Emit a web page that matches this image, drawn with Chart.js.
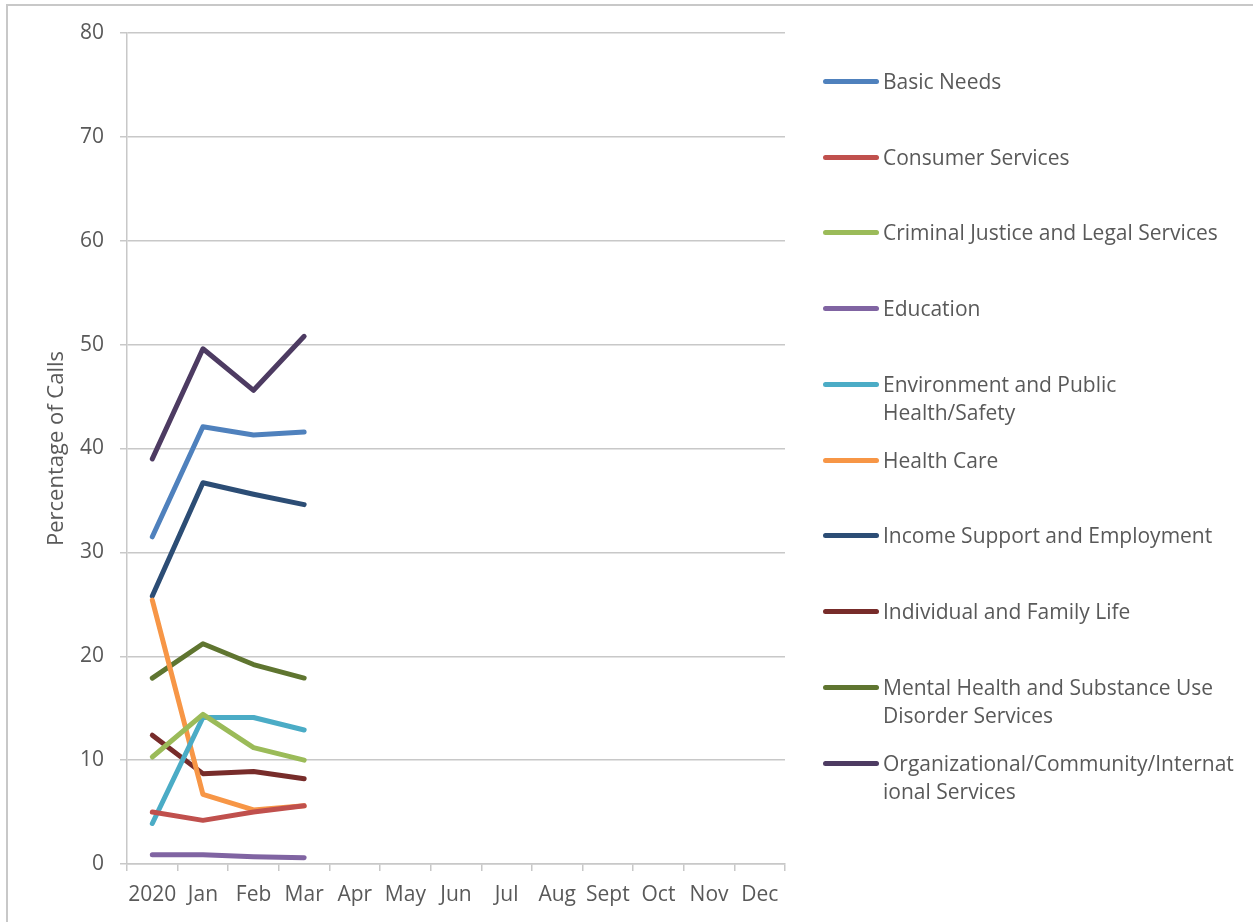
<!DOCTYPE html>
<html>
<head>
<meta charset="utf-8">
<script src="https://cdn.jsdelivr.net/npm/chart.js@4/dist/chart.umd.min.js"></script>
<style>
  body { margin: 0; background: #fff; font-family: "Open Sans", sans-serif; }
  #wrap { position: relative; width: 1253px; height: 922px; overflow: hidden; }
  #frame { position: absolute; left: 6px; top: 4px; right: -10px; bottom: -10px;
           border-left: 2px solid #c8c8c8; border-top: 2px solid #c8c8c8; }
  #callsChart { position: absolute; left: 0; top: 0; }
  #legend { position: absolute; left: 823px; top: 0; width: 425px; }
  .item { position: absolute; left: 0; display: flex; align-items: flex-start; }
  .swatch { width: 56px; height: 5px; border-radius: 3px; margin-top: 12px; margin-right: 4px; flex: none; }
  .txt { width: 352px; font-size: 21px; line-height: 28px; color: #595959; overflow-wrap: anywhere; }
</style>
</head>
<body>
<div id="wrap">
  <div id="frame"></div>
  <canvas id="callsChart" width="1253" height="922"></canvas>
  <div id="legend"></div>
</div>
<script>
const months = ["2020", "Jan", "Feb", "Mar", "Apr", "May", "Jun", "Jul", "Aug", "Sept", "Oct", "Nov", "Dec"];

const basicNeeds = [31.5, 42.1, 41.3, 41.6];
const consumerServices = [5.0, 4.2, 5.0, 5.6];
const criminalJustice = [10.3, 14.4, 11.2, 10.0];
const education = [0.9, 0.9, 0.7, 0.6];
const environmentHealth = [3.9, 14.1, 14.1, 12.9];
const healthCare = [25.4, 6.7, 5.2, 5.6];
const incomeSupport = [25.8, 36.7, 35.6, 34.6];
const familyLife = [12.4, 8.7, 8.9, 8.2];
const mentalHealth = [17.9, 21.2, 19.2, 17.9];
const organizational = [39.0, 49.6, 45.6, 50.8];

const series = [
  { label: "Basic Needs", data: basicNeeds, color: "#4F81BD" },
  { label: "Consumer Services", data: consumerServices, color: "#C0504D" },
  { label: "Criminal Justice and Legal Services", data: criminalJustice, color: "#9BBB59" },
  { label: "Education", data: education, color: "#8064A2" },
  { label: "Environment and Public Health/Safety", data: environmentHealth, color: "#4BACC6" },
  { label: "Health Care", data: healthCare, color: "#F79646" },
  { label: "Income Support and Employment", data: incomeSupport, color: "#2C4D75" },
  { label: "Individual and Family Life", data: familyLife, color: "#772C2A" },
  { label: "Mental Health and Substance Use Disorder Services", data: mentalHealth, color: "#5F7530" },
  { label: "Organizational/Community/International Services", data: organizational, color: "#4D3B62" },
];

const gridColor = "#c8c8c8";
const textColor = "#595959";

const ctx = document.getElementById("callsChart").getContext("2d");
new Chart(ctx, {
  type: "line",
  data: {
    labels: months,
    datasets: series.map((s) => ({
      label: s.label,
      data: s.data,
      borderColor: s.color,
      backgroundColor: s.color,
      borderWidth: 5,
      borderCapStyle: "round",
      borderJoinStyle: "round",
      pointRadius: 0,
      tension: 0,
    })),
  },
  options: {
    responsive: false,
    animation: false,
    layout: { padding: { left: 40, top: 33, right: 468, bottom: 0 } },
    plugins: {
      legend: { display: false },
      tooltip: { enabled: false },
    },
    scales: {
      y: {
        min: 0,
        max: 80,
        ticks: {
          stepSize: 10,
          padding: 16,
          color: textColor,
          font: { size: 21, family: "Open Sans" },
        },
        grid: { color: gridColor, lineWidth: 1.5, tickLength: 7 },
        border: { color: gridColor, width: 1.5 },
        title: {
          display: true,
          text: "Percentage of Calls",
          color: textColor,
          font: { size: 22, family: "Open Sans" },
          padding: { top: 4, bottom: 0 },
        },
        afterFit: (scale) => { scale.width = 87; },
      },
      x: {
        offset: true,
        ticks: {
          padding: 11,
          maxRotation: 0,
          autoSkip: false,
          color: textColor,
          font: { size: 21, family: "Open Sans" },
        },
        grid: { offset: true, drawOnChartArea: false, color: gridColor, lineWidth: 1.5, tickLength: 7 },
        border: { color: gridColor, width: 1.5 },
        afterFit: (scale) => { scale.height = 58; },
      },
    },
  },
});

// legend on the right, drawn as html
const legendTops = [67, 143, 218, 294, 370, 446, 521, 597, 673, 749];
const legend = document.getElementById("legend");
series.forEach((s, i) => {
  const item = document.createElement("div");
  item.className = "item";
  item.style.top = legendTops[i] + "px";
  const sw = document.createElement("div");
  sw.className = "swatch";
  sw.style.background = s.color;
  const t = document.createElement("div");
  t.className = "txt";
  t.textContent = s.label;
  item.appendChild(sw);
  item.appendChild(t);
  legend.appendChild(item);
});
</script>
</body>
</html>
